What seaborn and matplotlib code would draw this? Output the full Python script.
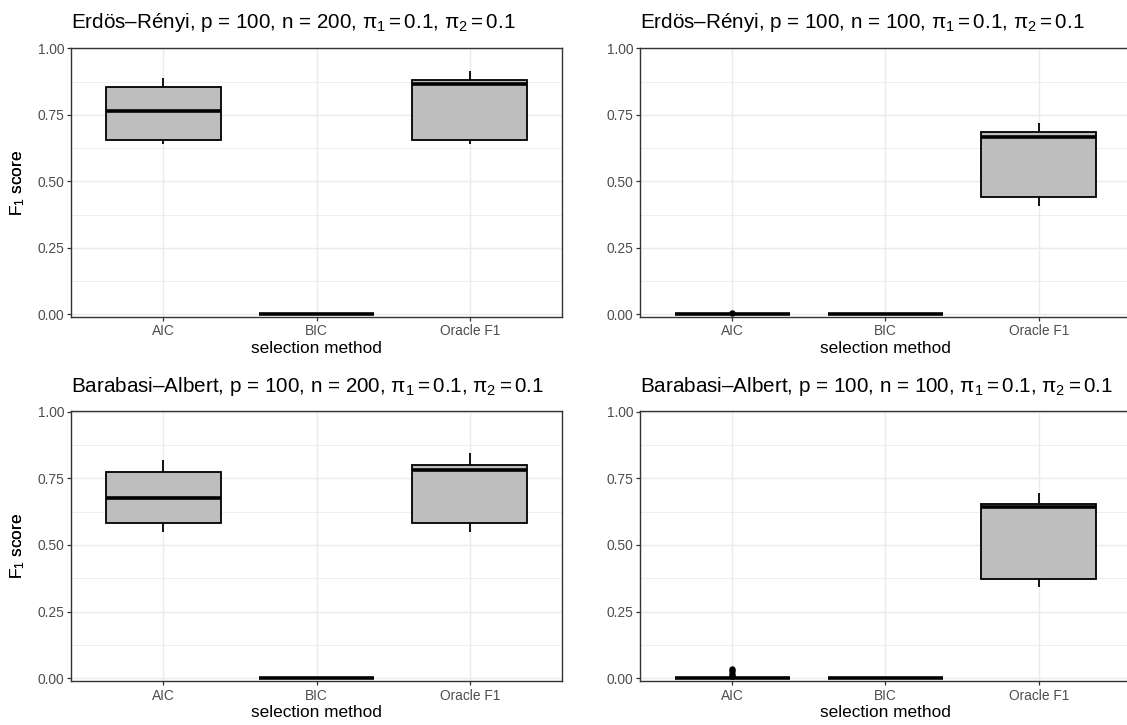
import matplotlib
matplotlib.use("Agg")
import matplotlib.pyplot as plt
from matplotlib.ticker import FixedLocator
import pandas as pd
import seaborn as sns

# ---- data -------------------------------------------------------------
methods = ["AIC", "BIC", "Oracle F1"]

panel_titles = [
    "Erdös–Rényi, p = 100, n = 200, $\\pi_1 = 0.1$, $\\pi_2 = 0.1$",
    "Erdös–Rényi, p = 100, n = 100, $\\pi_1 = 0.1$, $\\pi_2 = 0.1$",
    "Barabasi–Albert, p = 100, n = 200, $\\pi_1 = 0.1$, $\\pi_2 = 0.1$",
    "Barabasi–Albert, p = 100, n = 100, $\\pi_1 = 0.1$, $\\pi_2 = 0.1$",
]

# F1 scores per selection method
er_n200_aic = [0.639, 0.654, 0.764, 0.853, 0.889]
er_n200_bic = [0.0, 0.0, 0.0, 0.0, 0.0]
er_n200_oracle = [0.639, 0.654, 0.865, 0.879, 0.914]

er_n100_aic = [0.0, 0.0, 0.0, 0.0, 0.005]
er_n100_bic = [0.0, 0.0, 0.0, 0.0, 0.0]
er_n100_oracle = [0.406, 0.440, 0.665, 0.684, 0.720]

ba_n200_aic = [0.549, 0.582, 0.678, 0.772, 0.819]
ba_n200_bic = [0.0, 0.0, 0.0, 0.0, 0.0]
ba_n200_oracle = [0.549, 0.582, 0.781, 0.800, 0.844]

ba_n100_aic = [0.0] * 16 + [0.010, 0.018, 0.026, 0.035]
ba_n100_bic = [0.0, 0.0, 0.0, 0.0, 0.0]
ba_n100_oracle = [0.342, 0.371, 0.641, 0.655, 0.695]

y_ticks = [0.0, 0.25, 0.50, 0.75, 1.00]
y_minor = [0.125, 0.375, 0.625, 0.875]


def long_frame(aic, bic, oracle):
    return pd.DataFrame({
        "method": ["AIC"] * len(aic) + ["BIC"] * len(bic) + ["Oracle F1"] * len(oracle),
        "f1": list(aic) + list(bic) + list(oracle),
    })


frames = [
    long_frame(er_n200_aic, er_n200_bic, er_n200_oracle),
    long_frame(er_n100_aic, er_n100_bic, er_n100_oracle),
    long_frame(ba_n200_aic, ba_n200_bic, ba_n200_oracle),
    long_frame(ba_n100_aic, ba_n100_bic, ba_n100_oracle),
]

# ---- style ------------------------------------------------------------
sns.set_theme(style="white")
plt.rcParams["font.family"] = ["Liberation Sans", "DejaVu Sans"]
plt.rcParams["mathtext.fontset"] = "custom"
plt.rcParams["mathtext.rm"] = "Liberation Sans"
plt.rcParams["mathtext.it"] = "Liberation Sans"
plt.rcParams["mathtext.bf"] = "Liberation Sans:bold"

W, H = 1127, 725
fig = plt.figure(figsize=(W / 100, H / 100), dpi=100)
fig.patch.set_facecolor("white")

# panel rectangles in pixels: (left, top, right, bottom)
rects = [
    (71.4, 47.7, 561.7, 317.3),
    (640.3, 47.7, 1130.6, 317.3),
    (71.4, 411.0, 561.7, 681.4),
    (640.3, 411.0, 1130.6, 681.4),
]

grid_col = "#EBEBEB"
border_col = "#333333"

for df, title, (l, t, r, b) in zip(frames, panel_titles, rects):
    ax = fig.add_axes([l / W, 1 - b / H, (r - l) / W, (b - t) / H])
    ax.set_facecolor("white")
    ax.set_axisbelow(True)

    sns.boxplot(
        data=df, x="method", y="f1", order=methods, ax=ax,
        width=0.75, color="#BEBEBE", saturation=1, linecolor="black",
        linewidth=1.3, showcaps=False, whis=1.5,
        flierprops=dict(marker="o", markersize=3.6,
                        markerfacecolor="black", markeredgecolor="black"),
        medianprops=dict(linewidth=2.6, color="black"),
    )

    ax.set_xlim(-0.6, 2.6)
    ax.set_ylim(-0.0113, 1.0023)
    ax.set_yticks(y_ticks)
    ax.set_yticklabels([f"{v:.2f}" for v in y_ticks])
    ax.yaxis.set_minor_locator(FixedLocator(y_minor))

    ax.grid(which="major", color=grid_col, linewidth=1.07)
    ax.grid(which="minor", axis="y", color=grid_col, linewidth=0.55)

    for sp in ax.spines.values():
        sp.set_visible(True)
        sp.set_color(border_col)
        sp.set_linewidth(1.0)

    ax.tick_params(which="major", direction="out", length=2.75, width=0.9,
                   color=border_col, labelcolor="#4D4D4D", labelsize=9.9,
                   pad=2.4, bottom=True, left=True)
    ax.tick_params(which="minor", length=0)

    ax.set_xlabel("selection method", fontsize=12.4, color="black")
    ax.set_ylabel("F$_1$ score", fontsize=12.4, color="black")
    ax.xaxis.set_label_coords(0.5, -31.5 / (b - t))
    ax.xaxis.label.set_va("center")
    ax.yaxis.set_label_coords((17.9 - l) / (r - l), 0.5)
    ax.yaxis.label.set_va("center")

    ax.set_title(title, loc="left", fontsize=14.9, pad=14, color="black")

fig.savefig("out.png", dpi=100, facecolor="white")
